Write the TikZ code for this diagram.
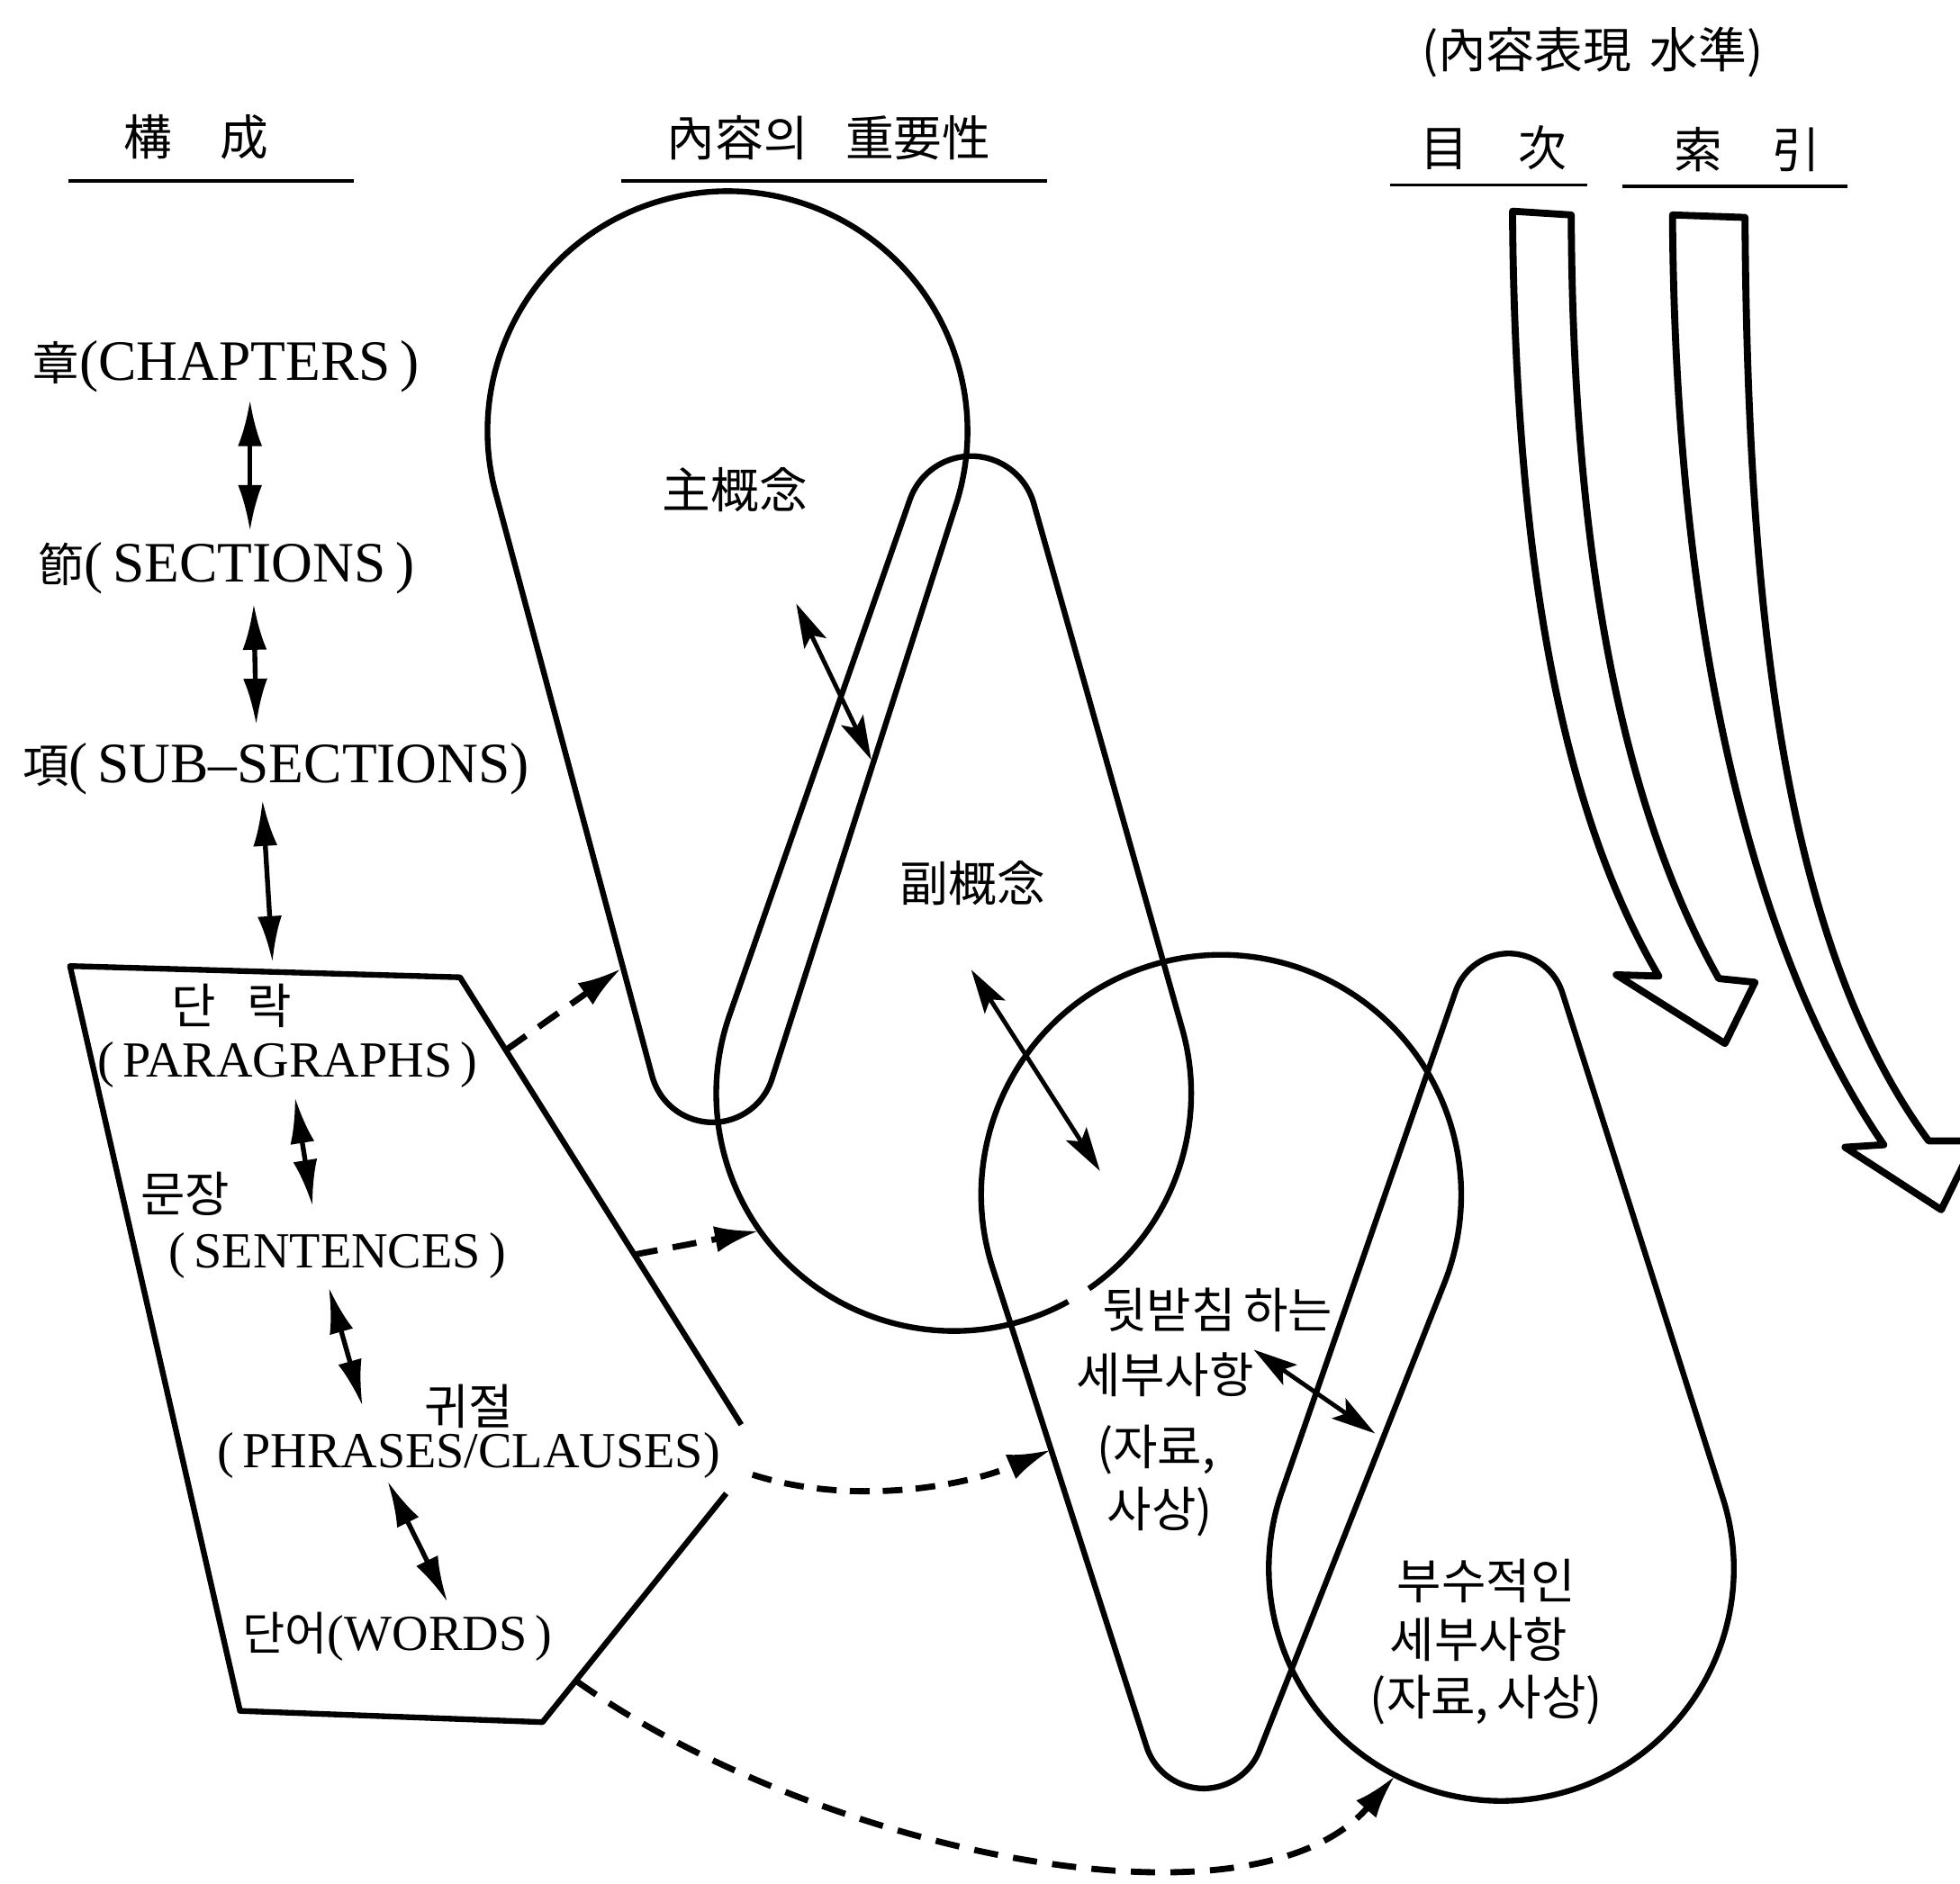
\documentclass[tikz,border=0pt]{standalone}
\usepackage{fontspec}
\setmainfont{Liberation Serif}
\newfontfamily\krfont{Noto Sans CJK KR}
\newcommand\KR[1]{{\krfont\fontsize{10.5}{12}\selectfont #1}}
\usetikzlibrary{arrows.meta}
\begin{document}
\begin{tikzpicture}[x=0.01cm,y=-0.01cm,
  lbl/.style={inner sep=0pt,anchor=center},
  lat/.style={lbl,font=\fontsize{13}{15}\selectfont},
  latin/.style={lbl,font=\fontsize{11.5}{14}\selectfont},
  kor/.style={lbl,font=\krfont\fontsize{11}{13}\selectfont},
  blob/.style={line width=1.3pt,line join=round},
  rule/.style={line width=0.8pt},
  hollow/.style={line width=1.6pt,line join=round},
  dbl/.style={line width=1.1pt,{Latex[length=10.5pt,width=5.5pt]}-{Latex[length=10.5pt,width=5.5pt]}},
  dbls/.style={line width=1pt,{Stealth[length=10pt,width=5.5pt,inset=2pt]}-{Stealth[length=10pt,width=5.5pt,inset=2pt]}},
  dsh/.style={line width=1.4pt,dash pattern=on 5.5pt off 3.5pt,-{Latex[length=10pt,width=6pt]}}
]
\useasboundingbox (0,0) rectangle (1568,1507);
\clip (0,0) rectangle (1568,1507);

% headings
\node[kor] (h1) at (157,110) {構\hspace{0.38cm}成};
\node[kor] (h2) at (663,110) {內容의\hspace{0.3cm}重要性};
\node[kor] (h3) at (1274,42) {(內容表現\hspace{0.15cm}水準)};
\node[kor] (h4) at (1195,118) {目\hspace{0.4cm}次};
\node[kor] (h5) at (1398,120) {索\hspace{0.4cm}引};
\draw[rule] (55,145) -- (283,145);
\draw[rule] (497,145) -- (838,145);
\draw[rule] (1112,148) -- (1270,148);
\draw[rule] (1298,149) -- (1478,149);

% left column
\node[lat] (ch) at (181,293) {\KR{章}(CHAPTERS\,)};
\node[lat] (se) at (181,455) {\KR{節}(\,SECTIONS\,)};
\node[lat] (ss) at (221,615) {\KR{項}(\,SUB--SECTIONS)};
\coordinate (a1s) at (200,320); \coordinate (a1e) at (200,425);
\coordinate (a2s) at (203,483); \coordinate (a2e) at (205,580);
\coordinate (a3s) at (210,640); \coordinate (a3e) at (218,770);
\draw[dbl] (a1s) -- (a1e);
\draw[dbl] (a2s) -- (a2e);
\draw[dbl] (a3s) -- (a3e);

% trapezoid
\draw[blob] (581,1195) -- (434,1378) -- (192,1369) -- (56,773) -- (368,782) -- (593,1140);
\node[kor] (pak) at (185,805) {단\hspace{0.25cm}락};
\node[latin] (pa) at (230,852) {(\,PARAGRAPHS\,)};
\node[kor] (senk) at (148,955) {문장};
\node[latin] (sen) at (270,1005) {(\,SENTENCES\,)};
\node[kor] (phk) at (375,1125) {귀절};
\node[latin] (ph) at (375,1165) {(\,PHRASES/CLAUSES)};
\node[latin] (wo) at (318,1310) {\KR{단어}(WORDS\,)};
\coordinate (b1s) at (236,878); \coordinate (b1e) at (250,965);
\coordinate (b2s) at (263,1030); \coordinate (b2e) at (290,1125);
\coordinate (b3s) at (310,1185); \coordinate (b3e) at (358,1282);
\draw[dbl] (b1s) -- (b1e);
\draw[dbl] (b2s) -- (b2e);
\draw[dbl] (b3s) -- (b3e);

% blob A (main concept)
\draw[blob] (396.6,394.8) arc[start angle=164.97, end angle=377.77, radius=192]
  -- (617.6,863.3) arc[start angle=17.77, end angle=164.97, radius=50] -- cycle;
% blob B (sub concept), with a small break in its lower arc
\draw[blob] (854.5,1041.5) arc[start angle=61.2, end angle=199.28, radius=190]
  -- (727.9,399.8) arc[start angle=199.28, end angle=344.22, radius=52]
  -- (945.8,823.3) arc[start angle=-15.78, end angle=55.3, radius=190];
% blob D (supporting details)
\draw[blob] (794.2,1014.8) arc[start angle=162.18, end angle=381.58, radius=192]
  -- (1007.6,1400.7) arc[start angle=21.58, end angle=162.18, radius=48] -- cycle;
% blob E (minor details)
\draw[blob] (1164.5,793.2) arc[start angle=199.15, end angle=342.38, radius=45]
  -- (1378.3,1198.7) arc[start angle=-17.62, end angle=199.15, radius=186] -- cycle;

\node[kor] (main) at (588,392) {主概念};
\node[kor] (sub) at (778,707) {副概念};
\node[kor] (d1) at (974,1048) {뒷받침\,하는};
\node[kor] (d2) at (932,1100) {세부사항};
\node[kor] (d3) at (925,1160) {(자료,};
\node[kor] (d4) at (928,1210) {사상)};
\node[kor] (e1) at (1189,1265) {부수적인};
\node[kor] (e2) at (1183,1312) {세부사항};
\node[kor] (e3) at (1189,1360) {(자료,\,사상)};

\coordinate (c1s) at (637,483); \coordinate (c1e) at (697,608);
\coordinate (c2s) at (777,776); \coordinate (c2e) at (880,937);
\coordinate (c3s) at (1003,1080); \coordinate (c3e) at (1100,1147);
\draw[dbls] (c1s) -- (c1e);
\draw[dbls] (c2s) -- (c2e);
\draw[dbls] (c3s) -- (c3e);

% dashed connectors
\coordinate (q1) at (405,840); \coordinate (t1) at (497,775);
\coordinate (q2) at (507,1004); \coordinate (t2) at (607,985);
\coordinate (q3) at (602,1180); \coordinate (t3) at (841,1160);
\coordinate (q4) at (461,1345); \coordinate (t4) at (1116,1421);
\draw[dsh] (q1) -- (t1);
\draw[dsh] (q2) -- (t2);
\draw[dsh,dash pattern=on 4.5pt off 3pt] (q3) .. controls (680,1205) and (770,1190) .. (t3);
\draw[dsh] (q4) .. controls (650,1480) and (1000,1555) .. (t4);

% hollow curved arrows
\draw[hollow] (1210,169) .. controls (1212,450) and (1250,650) .. (1327,781)
  -- (1293,780) -- (1380,835) -- (1404,786) -- (1375,783)
  .. controls (1300,650) and (1258,450) .. (1257,172) -- cycle;
\draw[hollow] (1338,172) .. controls (1340,500) and (1400,760) .. (1507,916)
  -- (1476,918) -- (1553,968) -- (1580,913) -- (1543,913)
  .. controls (1430,760) and (1398,500) .. (1396,174) -- cycle;
\end{tikzpicture}
\end{document}
